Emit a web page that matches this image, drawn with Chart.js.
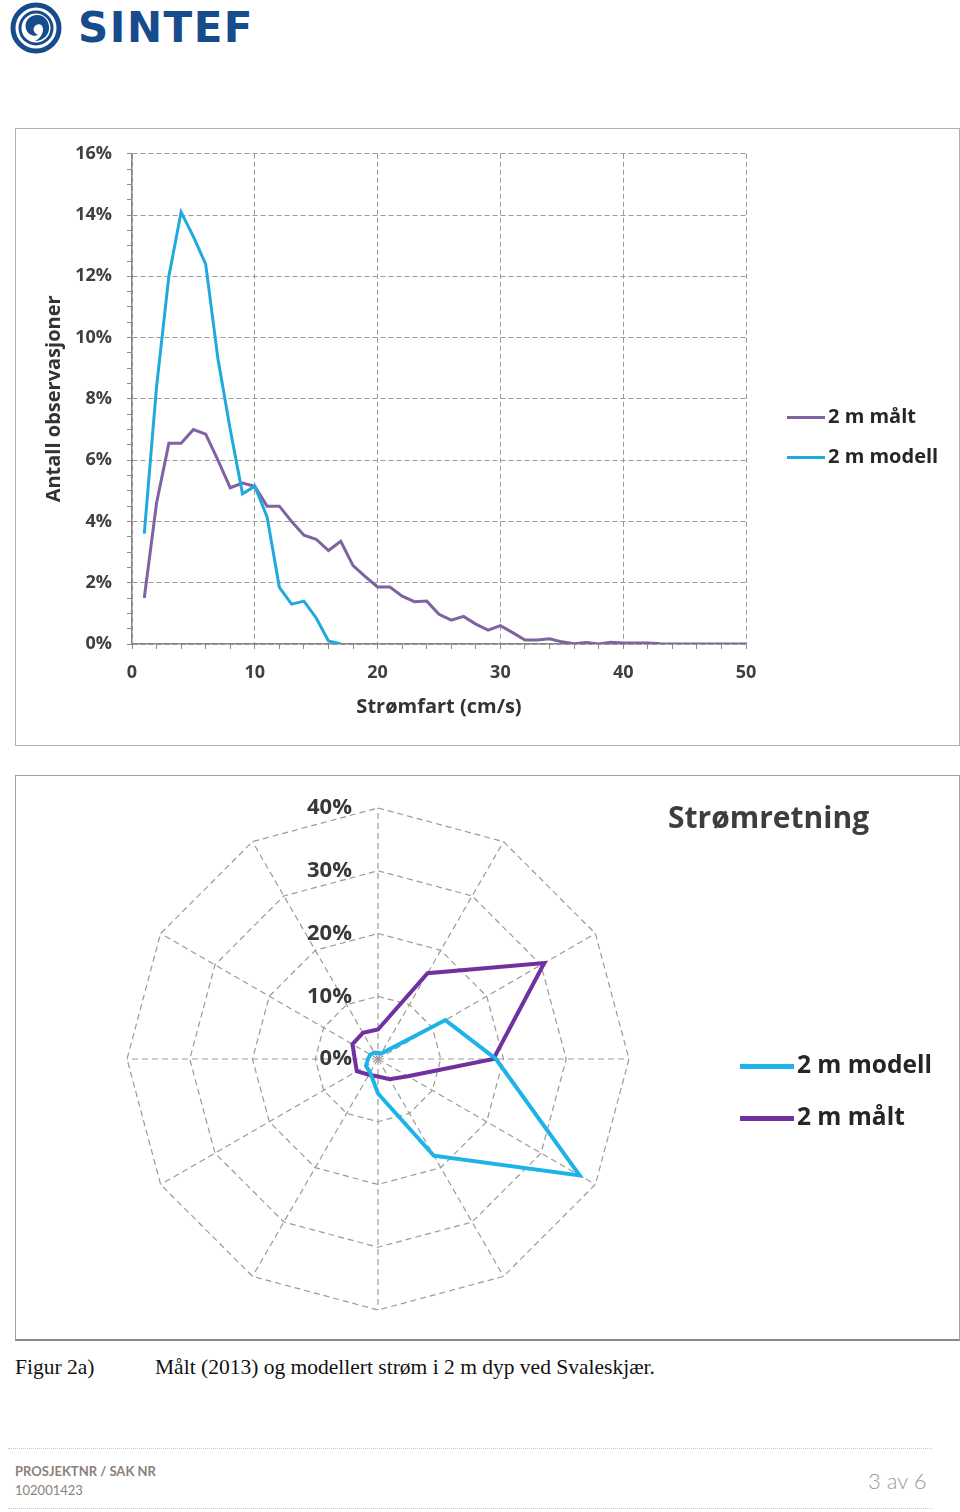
<!DOCTYPE html>
<html>
<head>
<meta charset="utf-8">
<script src="https://cdn.jsdelivr.net/npm/chart.js@4.4.1/dist/chart.umd.min.js"></script>
<style>
  body { margin: 0; width: 960px; height: 1512px; position: relative; background: #fff; font-family: "Open Sans", Lato, sans-serif; overflow: hidden; }
  .abs { position: absolute; }
  .box { position: absolute; box-sizing: border-box; }
  .brand { left: 78px; top: 2px; font-family: "DejaVu Sans", sans-serif; font-weight: bold; font-size: 42px; letter-spacing: 1.5px; color: #164b8c; line-height: 52px; }
  .leg { position: absolute; font-weight: bold; color: #262626; white-space: nowrap; }
  .leg i { display: inline-block; vertical-align: middle; }
  .caption { top: 1353px; font-family: "Liberation Serif", serif; font-size: 21.5px; line-height: 28px; color: #111; }
  .dots { left: 8px; width: 924px; border-top: 1px dotted #c8c8c8; height: 0; }
  .foot { color: #8b8178; font-size: 13px; left: 15px; font-family: Lato, sans-serif; }
</style>
</head>
<body>

<!-- logo -->
<svg class="abs" style="left:8px;top:1px" width="58" height="54" viewBox="0 0 58 54">
  <circle cx="28" cy="27" r="23" fill="none" stroke="#164b8c" stroke-width="5"/>
  <circle cx="28" cy="27" r="16" fill="none" stroke="#164b8c" stroke-width="3"/>
  <path d="M30 14 C20 14 16 22 18 28 C20 34 26 36 30 34 C26 32 24 28 27 25 C30 22 35 23 35 28 C35 34 31 38 27 40 C36 40 42 33 41 25 C40 18 35 14 30 14 Z" fill="#164b8c"/>
</svg>
<div class="abs brand">SINTEF</div>

<!-- speed chart -->
<div class="box" style="left:15px;top:128px;width:945px;height:618px;border:1px solid #b0b0b0;"></div>
<canvas id="speedChart" class="abs" style="left:15px;top:128px" width="945" height="617"></canvas>
<div class="leg" style="left:787px;top:402px;font-size:20px;line-height:28px;">
  <div><i style="width:38px;height:3px;background:#7f63a1;margin-right:3px"></i>2 m målt</div>
  <div style="margin-top:12px"><i style="width:38px;height:3px;background:#1fa9dc;margin-right:3px"></i>2 m modell</div>
</div>

<!-- direction chart -->
<div class="box" style="left:15px;top:775px;width:945px;height:566px;border:1px solid #a0a0a0;border-bottom:2px solid #8a8a8a;"></div>
<canvas id="dirChart" class="abs" style="left:15px;top:775px" width="944" height="565"></canvas>
<div class="abs" style="left:668px;top:795px;font-size:30px;font-weight:bold;color:#3d3d3d;line-height:44px;">Strømretning</div>
<div class="leg" style="left:740px;top:1046px;font-size:24.5px;line-height:36px;">
  <div><i style="width:54px;height:5px;background:#1db3e8;margin-right:3px"></i>2 m modell</div>
  <div style="margin-top:16px"><i style="width:54px;height:5px;background:#7030a0;margin-right:3px"></i>2 m målt</div>
</div>

<!-- caption -->
<div class="abs caption" style="left:15px">Figur 2a)</div>
<div class="abs caption" style="left:155px">Målt (2013) og modellert strøm i 2 m dyp ved Svaleskjær.</div>

<!-- footer -->
<div class="abs dots" style="top:1448px"></div>
<div class="abs foot" style="top:1463px;font-weight:bold;">PROSJEKTNR / SAK NR</div>
<div class="abs foot" style="top:1482px;">102001423</div>
<div class="abs" style="left:868px;top:1467px;font-size:22px;color:#9a9a9a;font-weight:300;font-family:Lato,sans-serif;">3 av 6</div>
<div class="abs dots" style="top:1508px"></div>

<script>
// speed distribution (cm/s -> % of observations)
const speedMalt = [1,2,3,4,5,6,7,8,9,10,11,12,13,14,15,16,17,18,19,20,21,22,23,24,25,
                   26,27,28,29,30,31,32,33,34,35,36,37,38,39,40,41,42,43,44,45,46,47,48,49,50];
const pctMalt = [1.5,4.6,6.55,6.55,7.0,6.85,6.0,5.1,5.25,5.15,4.5,4.5,4.0,3.55,3.42,3.05,3.35,2.56,2.2,1.86,
                 1.86,1.56,1.38,1.4,0.97,0.78,0.9,0.65,0.45,0.6,0.37,0.13,0.13,0.17,0.07,0.01,0.05,0.0,0.06,0.03,
                 0.03,0.03,0.01,0,0,0,0,0,0,0];
const speedModell = [1,2,3,4,5,6,7,8,9,10,11,12,13,14,15,16,17];
const pctModell = [3.6,8.4,12.0,14.1,13.3,12.4,9.3,7.0,4.9,5.15,4.15,1.85,1.3,1.4,0.85,0.1,0.0];

// current direction (12 sectors, clockwise from north), % of observations
const dirLabels = ['0','30','60','90','120','150','180','210','240','270','300','330'];
const dirModell = [1.0,1.0,12.4,18.8,37.1,17.8,5.5,2.5,2.2,1.6,1.4,1.2];
const dirMalt = [4.7,15.8,30.6,18.4,5.5,3.7,2.8,2.9,3.9,3.7,4.7,4.8];
const dirTicks = [0,10,20,30,40];

const toXY = (xs, ys) => xs.map((x, i) => ({ x: x, y: ys[i] }));

const gridGray = '#9a9a9a';
const axisGray = '#888888';
const tickFont = { family: 'Open Sans', weight: 'bold', size: 18 };
const titleFont = { family: 'Open Sans', weight: 'bold', size: 20 };

new Chart(document.getElementById('speedChart'), {
  type: 'line',
  data: {
    datasets: [
      { label: '2 m målt', data: toXY(speedMalt, pctMalt), borderColor: '#7f63a1', borderWidth: 3,
        pointRadius: 0, tension: 0, order: 1 },
      { label: '2 m modell', data: toXY(speedModell, pctModell), borderColor: '#1fa9dc', borderWidth: 3,
        pointRadius: 0, tension: 0, order: 0 }
    ]
  },
  options: {
    responsive: false,
    animation: false,
    layout: { padding: { top: 23, right: 214, left: 0, bottom: 0 } },
    plugins: { legend: { display: false }, tooltip: { enabled: false } },
    scales: {
      x: {
        type: 'linear', min: 0, max: 50,
        afterFit: (s) => { s.height = 101; },
        ticks: { stepSize: 2, autoSkip: false, maxRotation: 0, padding: 13, color: '#404040', font: tickFont,
                 callback: (v) => (v % 10 === 0 ? v : '') },
        grid: { color: (c) => (c.tick && c.tick.value % 10 === 0 ? gridGray : 'rgba(0,0,0,0)'),
                tickColor: axisGray, tickLength: 5, lineWidth: 1 },
        border: { color: axisGray, width: 1.5, dash: [5, 3] },
        title: { display: true, text: 'Strømfart (cm/s)', color: '#333', padding: { top: 0, bottom: 26 },
                 font: titleFont }
      },
      y: {
        min: 0, max: 16,
        afterFit: (s) => { s.width = 117; },
        ticks: { stepSize: 0.5, autoSkip: false, padding: 15, color: '#404040', font: tickFont,
                 callback: (v) => (v % 2 === 0 ? v + '%' : '') },
        grid: { color: (c) => (c.tick && c.tick.value % 2 === 0 ? gridGray : 'rgba(0,0,0,0)'),
                tickColor: axisGray, tickLength: 5, lineWidth: 1 },
        border: { color: axisGray, width: 1.5, dash: [5, 3] },
        title: { display: true, text: 'Antall observasjoner', color: '#333', padding: { top: 27, bottom: 0 },
                 font: titleFont }
      }
    }
  }
});

// tick labels for the polar grid, placed left of the north spoke
const radarTickLabels = {
  id: 'radarTickLabels',
  afterDraw(chart) {
    const s = chart.scales.r;
    const ctx = chart.ctx;
    ctx.save();
    ctx.font = 'bold 22px "Open Sans"';
    ctx.fillStyle = '#383838';
    ctx.textAlign = 'right';
    ctx.textBaseline = 'middle';
    dirTicks.forEach((v) => {
      const y = s.yCenter - s.getDistanceFromCenterForValue(v);
      ctx.fillText(v + '%', s.xCenter - 26, y);
    });
    ctx.restore();
  }
};

new Chart(document.getElementById('dirChart'), {
  type: 'radar',
  data: {
    labels: dirLabels,
    datasets: [
      { label: '2 m modell', data: dirModell, borderColor: '#1db3e8', borderWidth: 4, fill: false,
        pointRadius: 0, tension: 0 },
      { label: '2 m målt', data: dirMalt, borderColor: '#7030a0', borderWidth: 4, fill: false,
        pointRadius: 0, tension: 0 }
    ]
  },
  options: {
    responsive: false,
    animation: false,
    layout: { padding: { left: 112, top: 33, right: 330, bottom: 30 } },
    plugins: { legend: { display: false }, tooltip: { enabled: false } },
    scales: {
      r: {
        min: 0, max: 40,
        ticks: { stepSize: 10, display: false },
        pointLabels: { display: false },
        grid: { color: gridGray, lineWidth: 1.2 },
        border: { dash: [6, 4] },
        angleLines: { color: gridGray, lineWidth: 1.2, borderDash: [6, 4] }
      }
    }
  },
  plugins: [radarTickLabels]
});
</script>
</body>
</html>
